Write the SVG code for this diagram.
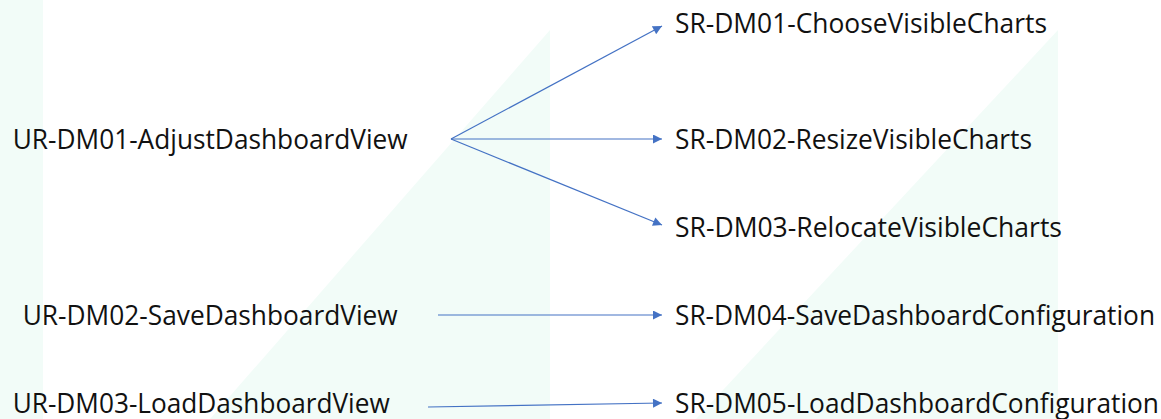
<svg xmlns="http://www.w3.org/2000/svg" width="1161" height="419" viewBox="0 0 1161 419">
<style>
.bg{fill:#f2fcf8}
.t{font-family:"Open Sans","Noto Sans","Liberation Sans",sans-serif;font-size:26.5px;fill:#111}
.c{stroke:#4472c4;stroke-width:1.2;fill:none;marker-end:url(#ah)}
</style>
<defs>
<marker id="ah" viewBox="0 0 10 10" refX="10" refY="5" markerWidth="10" markerHeight="9" markerUnits="userSpaceOnUse" orient="auto">
<path d="M0,0 L10,5 L0,10 z" fill="#4472c4"/>
</marker>
</defs>
<rect width="1161" height="419" fill="#fff"/>
<g id="background">
<rect class="bg" x="0" y="0" width="43" height="419"/>
<polygon class="bg" points="550,30 550,419 210,419"/>
<polygon class="bg" points="1058,30 1058,419 696,419"/>
</g>
<g id="connectors">
<line class="c" x1="451" y1="139" x2="662" y2="26"/>
<line class="c" x1="451" y1="139" x2="662" y2="139"/>
<line class="c" x1="451" y1="139" x2="662" y2="225"/>
<line class="c" x1="438" y1="315" x2="662" y2="315"/>
<line class="c" x1="428" y1="407" x2="662" y2="403"/>
</g>
<g id="UR-DM01"><text class="t" x="12.7" y="149" textLength="395" lengthAdjust="spacingAndGlyphs">UR-DM01-AdjustDashboardView</text></g>
<g id="UR-DM02"><text class="t" x="22.7" y="325" textLength="375" lengthAdjust="spacingAndGlyphs">UR-DM02-SaveDashboardView</text></g>
<g id="UR-DM03"><text class="t" x="12.7" y="413" textLength="377" lengthAdjust="spacingAndGlyphs">UR-DM03-LoadDashboardView</text></g>
<g id="SR-DM01"><text class="t" x="675" y="33" textLength="372" lengthAdjust="spacingAndGlyphs">SR-DM01-ChooseVisibleCharts</text></g>
<g id="SR-DM02"><text class="t" x="675" y="149" textLength="357" lengthAdjust="spacingAndGlyphs">SR-DM02-ResizeVisibleCharts</text></g>
<g id="SR-DM03"><text class="t" x="675" y="237" textLength="387" lengthAdjust="spacingAndGlyphs">SR-DM03-RelocateVisibleCharts</text></g>
<g id="SR-DM04"><text class="t" x="675" y="325" textLength="480" lengthAdjust="spacingAndGlyphs">SR-DM04-SaveDashboardConfiguration</text></g>
<g id="SR-DM05"><text class="t" x="675" y="413" textLength="484" lengthAdjust="spacingAndGlyphs">SR-DM05-LoadDashboardConfiguration</text></g>
</svg>
